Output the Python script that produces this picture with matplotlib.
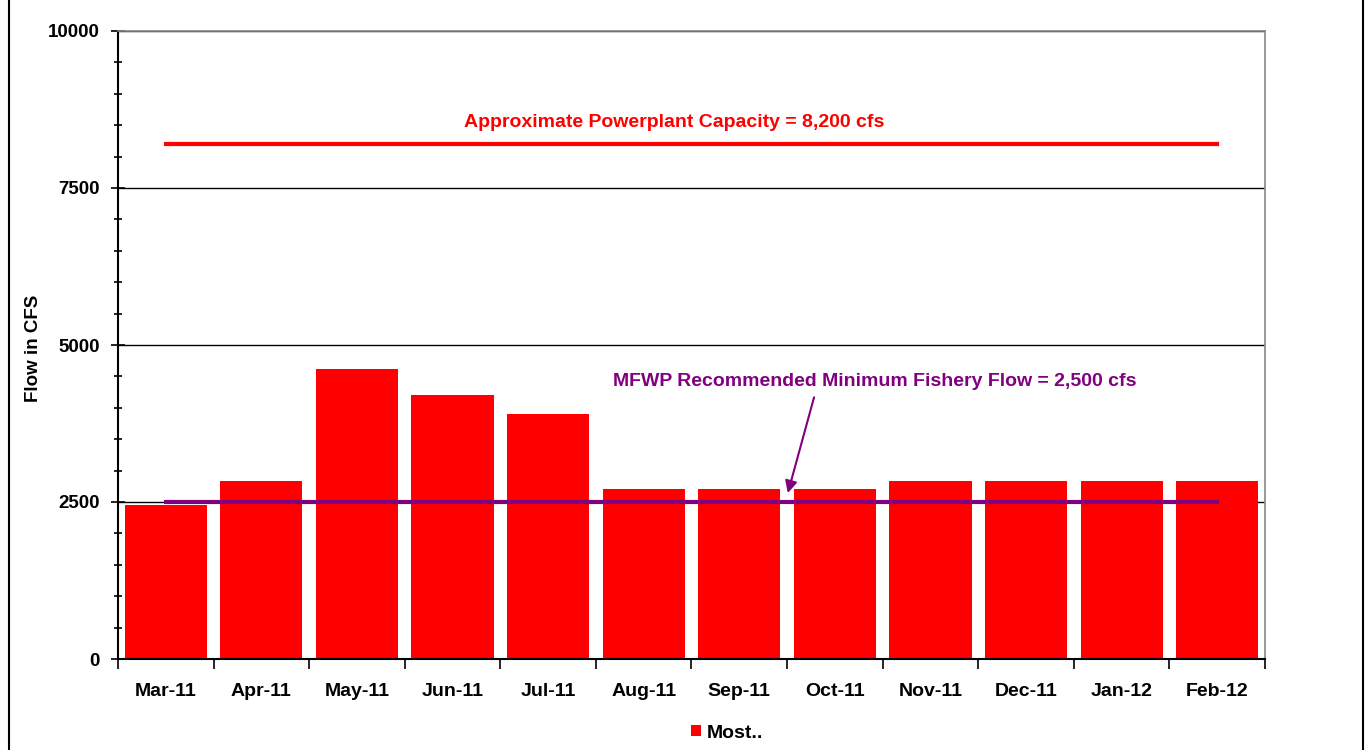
import matplotlib
matplotlib.use("Agg")
import matplotlib.pyplot as plt
from matplotlib.lines import Line2D
from matplotlib.patches import Patch
from matplotlib.ticker import MultipleLocator, FixedLocator
import numpy as np

plt.rcParams['font.family'] = ['Liberation Sans', 'DejaVu Sans']

months = ["Mar-11", "Apr-11", "May-11", "Jun-11", "Jul-11", "Aug-11",
          "Sep-11", "Oct-11", "Nov-11", "Dec-11", "Jan-12", "Feb-12"]
flows = [2450, 2840, 4620, 4200, 3900, 2700, 2700, 2700, 2840, 2840, 2840, 2840]
capacity = 8200
min_flow = 2500
series_name = "Most.."
cap_label = "Approximate Powerplant Capacity = 8,200 cfs"
min_label = "MFWP Recommended Minimum Fishery Flow = 2,500 cfs"

fig = plt.figure(figsize=(13.65, 7.5), dpi=100)
ax = fig.add_axes([118/1365, 1-659/750, (1265-118)/1365, (659-31)/750])

x = np.arange(len(months))
ax.bar(x, flows, width=0.86, color="#ff0000", zorder=2)
ax.plot([x[0], x[-1]], [capacity, capacity], color="#ff0000", lw=3, zorder=3)
ax.plot([x[0], x[-1]], [min_flow, min_flow], color="#800080", lw=3, zorder=3)

ax.set_xlim(-0.5, len(months) - 0.5)
ax.set_ylim(0, 10000)

ax.yaxis.set_major_locator(MultipleLocator(2500))
ax.yaxis.set_minor_locator(MultipleLocator(500))
ax.grid(axis='y', which='major', color='black', lw=1, zorder=0)
ax.set_axisbelow(True)

ax.tick_params(axis='y', which='major', direction='inout', length=10, width=1.2,
               labelsize=13.5, pad=8)
ax.tick_params(axis='y', which='minor', direction='inout', length=6, width=1.2)
for lab in ax.get_yticklabels():
    lab.set_fontweight('bold')

ax.set_xticks(x)
ax.set_xticklabels(months, fontsize=14, fontweight='bold')
ax.xaxis.set_minor_locator(FixedLocator(np.arange(-0.5, len(months), 1.0)))
ax.tick_params(axis='x', which='major', length=0, pad=17)
ax.tick_params(axis='x', which='minor', direction='out', length=7, width=1.2)

ax.set_ylabel("Flow in CFS", fontsize=13.5, fontweight='bold')
ax.yaxis.set_label_coords((42 - 118) / (1265 - 118), (659 - 348) / (659 - 31))

for s in ['top', 'right']:
    ax.spines[s].set_color('#888888')
    ax.spines[s].set_linewidth(1.2)
for s in ['left', 'bottom']:
    ax.spines[s].set_color('black')
    ax.spines[s].set_linewidth(1.5)

ax.text(5.32, 8550, cap_label, color="#ff0000", fontsize=14, fontweight='bold',
        ha='center', va='center')
ax.text(7.42, 4420, min_label, color="#800080", fontsize=14, fontweight='bold',
        ha='center', va='center')
ax.annotate("", xy=(6.50, 2600), xytext=(6.79, 4210),
            arrowprops=dict(arrowstyle='-|>', color="#800080", lw=1.5,
                            mutation_scale=18))

handles = [Patch(facecolor="#ff0000", edgecolor="none")]
fig.legend(handles, [series_name], loc='center', bbox_to_anchor=(727/1365, 1-733/750),
           frameon=False, prop={'weight': 'bold', 'size': 14},
           handlelength=0.55, handleheight=0.55, handletextpad=0.3)

fig.add_artist(Line2D([9/1365, 9/1365], [0, 1], color='black', lw=1.5,
                      transform=fig.transFigure))
fig.add_artist(Line2D([1363/1365, 1363/1365], [0, 1], color='black', lw=1.5,
                      transform=fig.transFigure))

fig.savefig("out.png", dpi=100)
